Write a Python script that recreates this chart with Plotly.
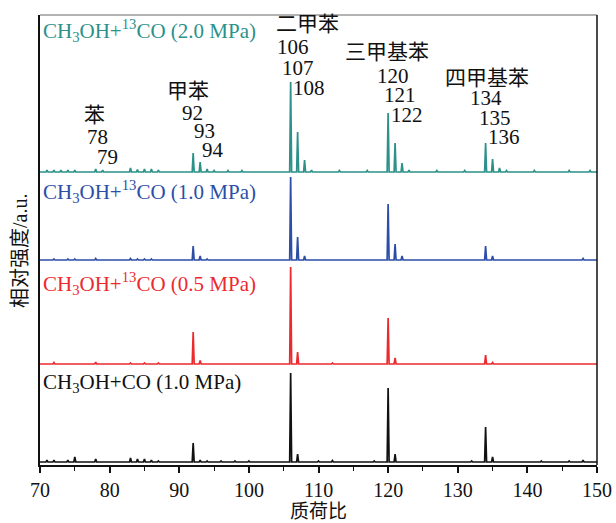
import plotly.graph_objects as go

# ---------------- data ----------------
# m/z positions and relative intensities (a.u., arbitrary scale) per spectrum
teal_mz = [71, 72, 73, 74, 75, 78, 79, 83, 84, 85, 86, 87, 92, 93, 94, 95, 97, 99,
           106, 107, 108, 109, 113, 117, 120, 121, 122, 123, 127, 131, 134, 135, 136, 137, 141, 146, 149]
teal_int = [2, 2, 2, 2, 2, 3, 2, 4, 2.5, 3, 3, 2, 19, 10, 3, 1.5, 1.5, 1.5,
            90, 40, 12, 2, 1.5, 1.5, 59, 29, 9, 2, 1.5, 1.5, 29, 13, 4, 1.5, 1.5, 1.5, 1.5]

blue_mz = [72, 74, 75, 78, 83, 84, 85, 86, 92, 93, 94, 106, 107, 108, 120, 121, 122, 134, 135, 148]
blue_int = [1, 1, 1, 1.5, 1.5, 1, 1, 1, 14, 4, 1, 83, 23, 4, 56, 16, 4, 14, 4, 1.5]

red_mz = [72, 78, 83, 85, 87, 92, 93, 106, 107, 112, 120, 121, 134, 135]
red_int = [1.5, 2, 1, 1, 1, 32, 3.5, 97, 12, 1, 46, 6, 9, 1.5]

black_mz = [71, 72, 74, 75, 78, 83, 84, 85, 86, 87, 92, 93, 94, 96, 98, 100, 106, 107, 110, 112,
            118, 120, 121, 132, 134, 135, 142, 146, 148]
black_int = [2, 2, 2, 5, 3, 4, 3, 3, 2, 1, 19, 2, 1, 1, 1, 1, 89, 8, 1, 1.5,
             1, 74, 8, 1, 35, 5, 1, 1, 2]

# vertical offsets of each stacked spectrum
offsets = {"teal": 293, "blue": 205, "red": 101, "black": 3}

series_labels = ["CH<sub>3</sub>OH+<sup>13</sup>CO (2.0 MPa)",
                 "CH<sub>3</sub>OH+<sup>13</sup>CO (1.0 MPa)",
                 "CH<sub>3</sub>OH+<sup>13</sup>CO (0.5 MPa)",
                 "CH<sub>3</sub>OH+CO (1.0 MPa)"]

x_ticks = [70, 80, 90, 100, 110, 120, 130, 140, 150]

peak_groups = [("苯", ["78", "79"]),
               ("甲苯", ["92", "93", "94"]),
               ("二甲苯", ["106", "107", "108"]),
               ("三甲基苯", ["120", "121", "122"]),
               ("四甲基苯", ["134", "135", "136"])]

# ---------------- style ----------------
colors = {"teal": "#2b918a", "blue": "#2c4ea6", "red": "#ec2a2e", "black": "#111111"}
SERIF = "Liberation Serif, Times New Roman, Noto Sans CJK SC, serif"

W, H = 616, 523
L, R, T, B = 40, 597, 15, 465
X0, X1 = 70, 150
Y0, Y1 = 0, B - T


def px_to_data(px, py):
    return X0 + (px - L) / (R - L) * (X1 - X0), (B - py)


def spike_trace(mz, inten, base, color):
    xs, ys = [X0], [base]
    hw = 0.14
    for m, h in sorted(zip(mz, inten)):
        xs += [m - hw, m, m + hw]
        ys += [base, base + h, base]
    xs.append(X1)
    ys.append(base)
    return go.Scatter(x=xs, y=ys, mode="lines", line=dict(color=color, width=1.7),
                      hoverinfo="skip", showlegend=False)


fig = go.Figure()
fig.add_trace(spike_trace(teal_mz, teal_int, offsets["teal"], colors["teal"]))
fig.add_trace(spike_trace(blue_mz, blue_int, offsets["blue"], colors["blue"]))
fig.add_trace(spike_trace(red_mz, red_int, offsets["red"], colors["red"]))
fig.add_trace(spike_trace(black_mz, black_int, offsets["black"], colors["black"]))

annotations = []

# series labels (left-aligned, pixel positions)
label_pos = [(42, 30, colors["teal"]), (42, 191, colors["blue"]),
             (42, 283, colors["red"]), (42, 383, colors["black"])]
for text, (px, py, c) in zip(series_labels, label_pos):
    x, y = px_to_data(px, py)
    annotations.append(dict(x=x, y=y, text=text, showarrow=False, xanchor="left",
                            yanchor="middle", borderpad=0,
                            font=dict(family=SERIF, size=21, color=c)))

# peak-group labels (center pixel positions)
group_pos = [
    [(94, 115), (97, 137), (107, 157)],
    [(188, 91), (192, 113), (204, 131), (213, 150)],
    [(307, 24), (293, 47), (298, 68), (309, 88)],
    [(387, 52), (393, 76), (400, 95), (407, 115)],
    [(487, 78), (486, 98), (495, 118), (504, 137)],
]
for (name, nums), pos in zip(peak_groups, group_pos):
    for text, (px, py) in zip([name] + nums, pos):
        x, y = px_to_data(px, py)
        annotations.append(dict(x=x, y=y, text=text, showarrow=False, xanchor="center",
                                yanchor="middle", borderpad=0,
                                font=dict(family=SERIF, size=21, color="#111")))

# y-axis title
annotations.append(dict(xref="paper", yref="paper", x=(20 - L) / (R - L), y=(B - 251) / (B - T),
                        text="相对强度/a.u.", textangle=-90, showarrow=False,
                        xanchor="center", yanchor="middle",
                        font=dict(family=SERIF, size=20, color="#111")))

fig.update_layout(
    width=W, height=H,
    margin=dict(l=L, r=W - R, t=T, b=H - B, autoexpand=False),
    paper_bgcolor="white", plot_bgcolor="white",
    annotations=annotations,
    xaxis=dict(range=[X0, X1], tickvals=x_ticks, ticks="outside", ticklen=6, tickwidth=1.5,
               tickcolor="#111", showgrid=False, zeroline=False, automargin=False,
               showline=True, linecolor="#111", linewidth=1.5, mirror=False,
               tickfont=dict(family=SERIF, size=20, color="#111"),
               minor=dict(dtick=5, tick0=70, ticks="outside", ticklen=4, tickwidth=1.2, tickcolor="#111"),
               title=dict(text="质荷比", font=dict(family=SERIF, size=19, color="#111"), standoff=4)),
    yaxis=dict(range=[Y0, Y1], showticklabels=False, ticks="", showgrid=False, zeroline=False,
               automargin=False, showline=True, linecolor="#111", linewidth=2.2),
    shapes=[
        dict(type="line", xref="paper", yref="paper", x0=0, x1=1, y0=1, y1=1,
             line=dict(color="#9a9a9a", width=1.5)),
        dict(type="line", xref="paper", yref="paper", x0=1, x1=1, y0=0, y1=1,
             line=dict(color="#111", width=1.5)),
    ],
)

fig.write_html("out.html", config={"displayModeBar": False},
               post_script="document.body.style.margin='0px';")
